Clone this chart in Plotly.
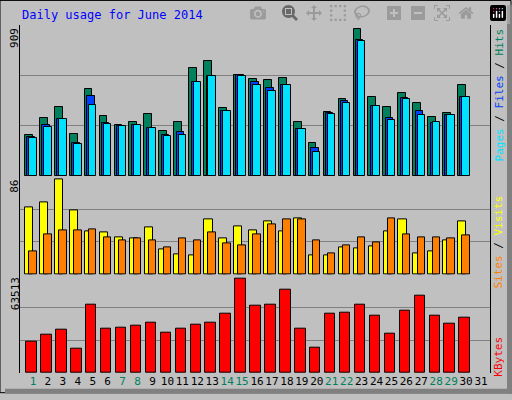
import plotly.graph_objects as go
from plotly.subplots import make_subplots

days = list(range(1, 32))
hits = [249, 348, 414, 255, 527, 364, 309, 324, 376, 273, 327, 653, 692, 408, 611, 587,
        577, 593, 324, 201, 384, 462, 888, 475, 414, 499, 438, 354, 378, 547, 0]
files = [235, 306, 342, 201, 484, 321, 302, 306, 291, 247, 267, 569, 605, 394, 607, 565,
         529, 547, 282, 171, 378, 452, 816, 424, 352, 469, 390, 321, 366, 478, 0]
pages = [233, 294, 342, 197, 430, 315, 300, 306, 288, 245, 251, 565, 605, 394, 601, 547,
         511, 547, 282, 149, 376, 442, 812, 420, 336, 462, 366, 324, 366, 475, 0]
visits = [59, 63, 83, 56, 38, 37, 33, 32, 41, 22, 18, 17, 48, 32, 42, 39,
          47, 38, 49, 17, 17, 24, 23, 25, 38, 48, 19, 20, 30, 47, 0]
sites = [20, 35, 39, 39, 40, 33, 30, 32, 30, 24, 32, 30, 37, 27, 26, 35,
         44, 48, 48, 30, 19, 26, 33, 28, 49, 35, 33, 33, 32, 34, 0]
kbytes = [20304, 24840, 28080, 15768, 44280, 28728, 29376, 30672, 32616, 26136, 28728,
          31320, 32616, 38448, 61128, 43632, 44280, 54000, 28728, 16416, 38448, 39096,
          44280, 37152, 25488, 40392, 50112, 37152, 31968, 35856, 0]
weekend = [1, 7, 8, 14, 15, 21, 22, 28, 29]
max_hits, max_visits, max_kb = 909, 86, 63513

W, H = 512, 400
L, R, T, B = 20, 22, 25, 21
MONO = "DejaVu Sans Mono"

fig = make_subplots(rows=3, cols=1, shared_xaxes=True, vertical_spacing=0,
                    row_heights=[154, 100, 100])


def bar(y, color, off, width, row):
    # day 31 has no data yet: leave it empty instead of drawing a flat outline
    y = [v if v else None for v in y]
    fig.add_trace(go.Bar(x=days, y=y, offset=off, width=width, marker_color=color,
                         marker_line=dict(color="black", width=1), showlegend=False,
                         hoverinfo="skip"), row=row, col=1)


bar(hits, "#00805C", -0.54, 0.52, 1)
bar(files, "#0040FF", -0.38, 0.5, 1)
bar(pages, "#00E0FF", -0.25, 0.5, 1)
bar(visits, "#FFFF00", -0.53, 0.55, 2)
bar(sites, "#FF8000", -0.25, 0.5, 2)
bar(kbytes, "#FF0000", -0.45, 0.7, 3)

ticktext = [f'<span style="color:{"#00805C" if d in weekend else "black"}">{d}</span>'
            for d in days]
fig.update_xaxes(range=[0.13, 31.6], showgrid=False, zeroline=False, showline=False,
                 ticks="", tickvals=days, ticktext=ticktext, tickangle=0,
                 tickfont=dict(family=MONO, size=11))
for row, m in [(1, max_hits), (2, max_visits), (3, max_kb)]:
    fig.update_yaxes(range=[0, m], tickvals=[m / 3, 2 * m / 3], showticklabels=False,
                     gridcolor="#808080", gridwidth=1, zeroline=False, showline=True,
                     linecolor="black", mirror=True, ticks="", row=row, col=1)

ph = H - T - B
def py(p): return 1 - (p - T) / ph
def px(p): return (p - L) / (W - L - R)

ann = [dict(text="Daily usage for June 2014", x=px(20), y=py(15), xanchor="left",
            yanchor="middle", font=dict(family=MONO, size=12, color="#0000FF"))]
for top, label in [(26, str(max_hits)), (181, str(max_visits)), (280, str(max_kb))]:
    ann.append(dict(text=label, x=px(15), y=py(top), xanchor="center", yanchor="top",
                    textangle=-90, font=dict(family=MONO, size=11, color="black")))
ann.append(dict(text='<span style="color:#00E0FF">Pages</span> / '
                     '<span style="color:#0040FF">Files</span> / '
                     '<span style="color:#00805C">Hits</span>',
                x=px(499), y=py(27), xanchor="center", yanchor="top", textangle=-90,
                font=dict(family=MONO, size=11, color="black")))
ann.append(dict(text='<span style="color:#FF8000">Sites</span> / '
                     '<span style="color:#FFFF00">Visits</span>',
                x=px(499), y=py(197), xanchor="center", yanchor="top", textangle=-90,
                font=dict(family=MONO, size=11, color="black")))
ann.append(dict(text='<span style="color:#FF0000">KBytes</span>',
                x=px(499), y=py(340), xanchor="center", yanchor="top", textangle=-90,
                font=dict(family=MONO, size=11, color="black")))
for a in ann:
    a.update(xref="paper", yref="paper", showarrow=False)

shapes = [
    dict(type="rect", x0=px(0), x1=px(W - 1), y0=py(0), y1=py(H - 1),
         line=dict(color="black", width=1)),
    dict(type="rect", x0=px(W - 5), x1=px(W), y0=py(5), y1=py(H),
         fillcolor="#808080", line_width=0),
    dict(type="rect", x0=px(5), x1=px(W), y0=py(H - 5), y1=py(H),
         fillcolor="#808080", line_width=0),
]
for s in shapes:
    s.update(xref="paper", yref="paper", layer="above")

fig.update_layout(width=W, height=H, margin=dict(l=L, r=R, t=T, b=B),
                  paper_bgcolor="#C0C0C0", plot_bgcolor="#C0C0C0", barmode="overlay",
                  bargap=0, annotations=ann, shapes=shapes,
                  font=dict(family=MONO, size=11, color="black"))

fig.write_html("out.html", post_script="document.body.style.margin='0';")
